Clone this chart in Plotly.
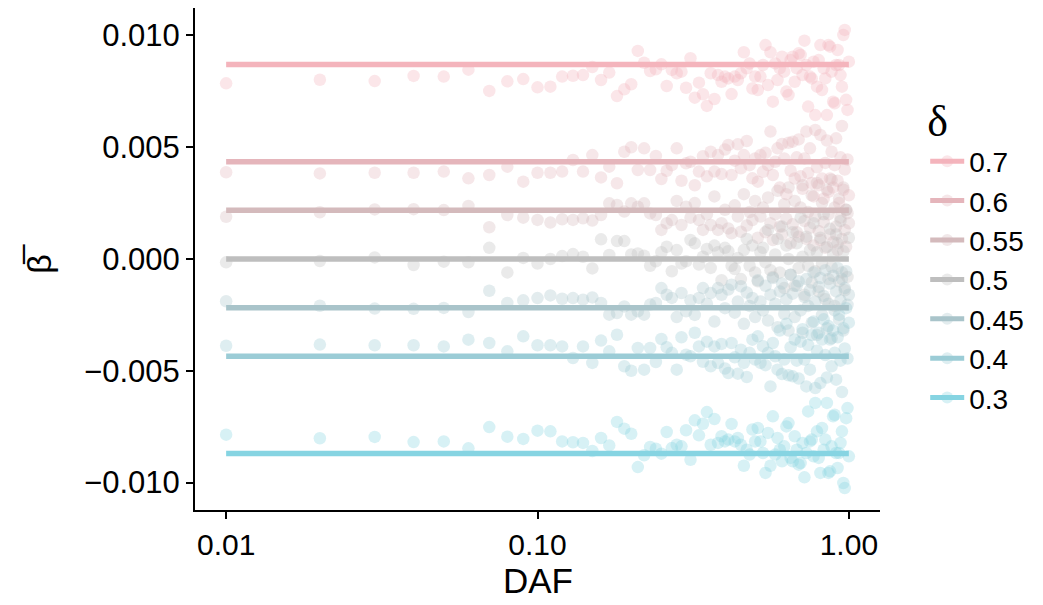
import plotly.graph_objects as go

# Derived allele frequency (DAF) bins
daf = [0.01, 0.02, 0.03, 0.04, 0.05, 0.06, 0.07, 0.08, 0.09, 0.10,
       0.11, 0.12, 0.13, 0.14, 0.15, 0.16, 0.17, 0.18, 0.19, 0.20,
       0.21, 0.22, 0.23, 0.24, 0.25, 0.26, 0.27, 0.28, 0.29, 0.30,
       0.31, 0.32, 0.33, 0.34, 0.35, 0.36, 0.37, 0.38, 0.39, 0.40,
       0.41, 0.42, 0.43, 0.44, 0.45, 0.46, 0.47, 0.48, 0.49, 0.50,
       0.51, 0.52, 0.53, 0.54, 0.55, 0.56, 0.57, 0.58, 0.59, 0.60,
       0.61, 0.62, 0.63, 0.64, 0.65, 0.66, 0.67, 0.68, 0.69, 0.70,
       0.71, 0.72, 0.73, 0.74, 0.75, 0.76, 0.77, 0.78, 0.79, 0.80,
       0.81, 0.82, 0.83, 0.84, 0.85, 0.86, 0.87, 0.88, 0.89, 0.90,
       0.91, 0.92, 0.93, 0.94, 0.95, 0.96, 0.97, 0.98, 0.99, 1.00]

delta_labels = ["0.7", "0.6", "0.55", "0.5", "0.45", "0.4", "0.3"]
delta_colors = ["#F4B4BC", "#E5B5BB", "#D4BABC", "#BEBEBE", "#A9C4CA", "#9BCCD6", "#86D4E2"]

# Expected mean effect for each delta (x 1e-3)
expected_beta = [8.70, 4.35, 2.18, 0.00, -2.18, -4.35, -8.70]

# Mean effect per DAF bin (x 1e-3)
beta_d070 = [7.86, 8.02, 7.96, 8.19, 8.16, 8.47, 7.52, 7.95, 8.05,
             7.68, 7.71, 8.16, 8.20, 8.23, 8.59, 8.01, 8.34, 7.29, 7.59, 7.82,
             9.31, 8.78, 8.41, 8.49, 8.71, 7.74, 8.46, 8.31, 8.38, 7.66, 8.98, 7.22, 7.89, 7.37, 6.85,
             8.31, 7.16, 8.23, 7.93, 8.16, 8.08, 7.38, 8.16, 8.01, 8.31, 9.25, 8.53, 8.75, 7.63, 8.16,
             7.56, 8.16, 8.68, 9.57, 7.78, 9.25, 7.04, 8.75, 8.01, 8.53, 9.05, 8.38, 7.49, 7.34, 8.90,
             9.05, 7.93, 8.53, 9.20, 9.13, 8.23, 9.77, 8.68, 6.82, 8.16, 8.08, 8.83, 6.44, 7.71, 8.90,
             9.57, 7.56, 8.53, 8.08, 6.44, 9.57, 9.50, 8.38, 7.04, 6.97, 8.68, 9.35, 8.68, 8.23, 7.71,
             10.02, 10.25, 7.12, 6.67, 8.83]

beta_d060 = [3.88, 3.83, 3.86, 3.86, 3.91, 3.61, 3.76, 4.13, 3.46,
             3.86, 3.86, 3.91, 4.43, 3.91, 4.65, 3.65, 4.13, 3.39, 4.80, 5.00,
             3.98, 4.95, 3.98, 4.61, 3.58, 3.95, 4.20, 4.95, 3.50, 4.28, 4.35, 3.30, 3.91, 4.60, 3.70,
             4.80, 3.91, 4.65, 3.80, 4.90, 5.10, 3.76, 4.40, 5.13, 4.06, 4.65, 5.28, 4.20, 3.61, 4.50,
             3.46, 4.65, 3.90, 4.75, 4.20, 5.70, 3.76, 4.35, 4.95, 3.20, 5.15, 4.50, 2.90, 5.20, 3.95,
             5.25, 3.60, 4.55, 5.35, 3.70, 3.14, 4.50, 5.70, 3.85, 4.95, 3.40, 2.80, 5.77, 4.10, 3.30,
             5.55, 3.60, 2.70, 4.30, 5.30, 3.00, 3.60, 4.80, 3.20, 4.20, 5.40, 3.50, 2.50, 4.55, 5.95,
             3.10, 4.00, 2.20, 4.45, 2.85]

beta_d055 = [1.89, 2.09, 2.22, 2.23, 2.19, 2.37, 1.42, 1.97, 1.85,
             1.75, 1.63, 1.78, 1.75, 1.82, 1.72, 1.97, 2.49, 2.42, 2.12, 2.49,
             2.34, 2.49, 2.04, 1.97, 1.30, 1.60, 1.74, 2.60, 1.52, 2.34, 1.85, 2.50, 1.74, 1.30, 2.00,
             1.52, 2.80, 1.30, 1.60, 2.20, 1.37, 1.15, 2.40, 1.90, 1.22, 2.90, 1.50, 2.10, 1.74, 2.60,
             0.95, 1.90, 2.30, 1.20, 2.75, 1.60, 0.85, 2.00, 3.05, 1.45, 1.10, 2.45, 1.80, 3.20, 0.70,
             1.55, 2.60, 1.20, 1.00, 2.30, 3.30, 1.70, 0.90, 2.10, 1.40, 2.85, 0.60, 1.90, 3.40, 1.25,
             0.85, 2.50, 1.65, 0.50, 3.10, 2.00, 1.10, 3.55, 0.75, 2.30, 1.45, 0.40, 2.70, 1.85, 0.90,
             3.20, 1.30, 0.55, 2.05, 1.60]

beta_d050 = [-0.15, -0.09, 0.07, -0.27, -0.12, -0.15, 0.50, -0.60, 0.05,
             -0.20, 0.00, 0.13, 0.22, 0.10, -0.42, 0.88, 0.18, 0.80, 0.80, 0.20,
             0.25, 0.15, -0.30, -0.10, 0.30, 0.55, -0.55, 0.40, -0.20, -0.10, 0.85, 0.70, -0.25, 0.10, 0.45,
             -0.40, 0.60, 0.30, -0.95, 0.50, 0.35, -0.30, -0.45, 0.05, -0.90, 0.40, 0.90, -0.30, 0.60, -0.60,
             -1.00, 0.30, 0.50, -0.15, 1.30, -0.50, -0.80, 0.20, 0.90, -0.60, 1.45, -1.30, 0.60, 0.00, -0.70,
             1.20, -1.20, 0.70, -0.40, 1.85, 0.10, -1.60, 1.00, -0.30, 0.40, -1.05, 1.60, -0.55, 0.30, -1.45,
             0.95, -0.20, 2.00, -1.80, 0.55, -0.90, 1.35, -0.35, 0.20, -2.10, 1.10, 0.70, -1.00, 1.70, -0.60,
             0.35, -1.40, 2.20, -0.80, 0.95]

beta_d045 = [-1.89, -2.09, -2.22, -2.23, -2.19, -2.37, -1.42, -1.97, -1.85,
             -1.75, -1.63, -1.78, -1.75, -1.82, -1.72, -1.97, -2.49, -2.42, -2.12, -2.49,
             -2.34, -2.49, -2.04, -1.97, -1.30, -1.60, -1.74, -2.60, -1.52, -2.34, -1.85, -2.50, -1.74, -1.30, -2.00,
             -1.52, -2.80, -1.30, -1.60, -2.20, -1.37, -1.15, -2.40, -1.90, -1.22, -2.90, -1.50, -2.10, -1.74, -2.60,
             -0.95, -1.90, -2.30, -1.20, -2.75, -1.60, -0.85, -2.00, -3.05, -1.45, -1.10, -2.45, -1.80, -3.20, -0.70,
             -1.55, -2.60, -1.20, -1.00, -2.30, -3.30, -1.70, -0.90, -2.10, -1.40, -2.85, -0.60, -1.90, -3.40, -1.25,
             -0.85, -2.50, -1.65, -0.50, -3.10, -2.00, -1.10, -3.55, -0.75, -2.30, -1.45, -0.40, -2.70, -1.85, -0.90,
             -3.20, -1.30, -0.55, -2.05, -1.60]

beta_d040 = [-3.88, -3.83, -3.86, -3.86, -3.91, -3.61, -3.76, -4.13, -3.46,
             -3.86, -3.86, -3.91, -4.43, -3.91, -4.65, -3.65, -4.13, -3.39, -4.80, -5.00,
             -3.98, -4.95, -3.98, -4.61, -3.58, -3.95, -4.20, -4.95, -3.50, -4.28, -4.35, -3.30, -3.91, -4.60, -3.70,
             -4.80, -3.91, -4.65, -3.80, -4.90, -5.10, -3.76, -4.40, -5.13, -4.06, -4.65, -5.28, -4.20, -3.61, -4.50,
             -3.46, -4.65, -3.90, -4.75, -4.20, -5.70, -3.76, -4.35, -4.95, -3.20, -5.15, -4.50, -2.90, -5.20, -3.95,
             -5.25, -3.60, -4.55, -5.35, -3.70, -3.14, -4.50, -5.70, -3.85, -4.95, -3.40, -2.80, -5.77, -4.10, -3.30,
             -5.55, -3.60, -2.70, -4.30, -5.30, -3.00, -3.60, -4.80, -3.20, -4.20, -5.40, -3.50, -2.50, -4.55, -5.95,
             -3.10, -4.00, -2.20, -4.45, -2.85]

beta_d030 = [-7.86, -8.02, -7.96, -8.19, -8.16, -8.47, -7.52, -7.95, -8.05,
             -7.68, -7.71, -8.16, -8.20, -8.23, -8.59, -8.01, -8.34, -7.29, -7.59, -7.82,
             -9.31, -8.78, -8.41, -8.49, -8.71, -7.74, -8.46, -8.31, -8.38, -7.66, -8.98, -7.22, -7.89, -7.37, -6.85,
             -8.31, -7.16, -8.23, -7.93, -8.16, -8.08, -7.38, -8.16, -8.01, -8.31, -9.25, -8.53, -8.75, -7.63, -8.16,
             -7.56, -8.16, -8.68, -9.57, -7.78, -9.25, -7.04, -8.75, -8.01, -8.53, -9.05, -8.38, -7.49, -7.34, -8.90,
             -9.05, -7.93, -8.53, -9.20, -9.13, -8.23, -9.77, -8.68, -6.82, -8.16, -8.08, -8.83, -6.44, -7.71, -8.90,
             -9.57, -7.56, -8.53, -8.08, -6.44, -9.57, -9.50, -8.38, -7.04, -6.97, -8.68, -9.35, -8.68, -8.23, -7.71,
             -10.02, -10.25, -7.12, -6.67, -8.83]

beta_series = [beta_d070, beta_d060, beta_d055, beta_d050, beta_d045, beta_d040, beta_d030]

SCALE = 1e-3
FONT = "Liberation Sans, Arial, sans-serif"
POINT_ALPHA = 0.33

fig = go.Figure()

# Scatter of per-bin means
for label, color, values in zip(delta_labels, delta_colors, beta_series):
    fig.add_trace(go.Scatter(
        x=daf, y=[v * SCALE for v in values], mode="markers",
        marker=dict(size=12.5, color=color, opacity=POINT_ALPHA, line=dict(width=0)),
        showlegend=False, hoverinfo="x+y",
    ))

# Expected value lines across the DAF range
for label, color, level in zip(delta_labels, delta_colors, expected_beta):
    fig.add_trace(go.Scatter(
        x=[daf[0], daf[-1]], y=[level * SCALE, level * SCALE], mode="lines",
        line=dict(color=color, width=5.5),
        showlegend=False, hoverinfo="skip",
    ))

# Legend keys: line with a faint point
for label, color in zip(delta_labels, delta_colors):
    fig.add_trace(go.Scatter(
        x=[None], y=[None], mode="lines+markers", name=label,
        line=dict(color=color, width=5),
        marker=dict(size=12, color=color, opacity=POINT_ALPHA),
        showlegend=True,
    ))

fig.update_layout(
    width=1043, height=605,
    margin=dict(l=195, r=163, t=8, b=95),
    paper_bgcolor="white", plot_bgcolor="white",
    font=dict(family=FONT, color="black", size=24),
    showlegend=True,
    legend=dict(
        x=1.066, y=0.858, xanchor="left", yanchor="top",
        traceorder="normal",
        title=dict(text="δ", font=dict(family="Liberation Serif, serif", size=44)),
        font=dict(family=FONT, size=28, color="black"),
        itemwidth=34, bgcolor="rgba(0,0,0,0)",
    ),
    xaxis=dict(
        type="log", range=[-2.1, 0.1],
        tickvals=[0.01, 0.1, 1.0], ticktext=["0.01", "0.10", "1.00"],
        ticks="outside", ticklen=7, tickwidth=2, tickcolor="black",
        showline=True, linecolor="black", linewidth=2,
        showgrid=False, zeroline=False,
        tickfont=dict(family=FONT, size=30, color="black"),
    ),
    yaxis=dict(
        range=[-0.01123, 0.01123],
        tickvals=[-0.01, -0.005, 0.0, 0.005, 0.01],
        ticktext=["\u22120.010", "\u22120.005", "0.000", "0.005", "0.010"],
        ticks="outside", ticklen=7, tickwidth=2, tickcolor="black",
        showline=True, linecolor="black", linewidth=2,
        showgrid=False, zeroline=False,
        tickfont=dict(family=FONT, size=31, color="black"),
    ),
    annotations=[
        dict(
            text="DAF", xref="paper", yref="paper", x=0.5, y=-0.1414,
            xanchor="center", yanchor="middle", showarrow=False,
            font=dict(family=FONT, size=35, color="black"),
        ),
        dict(
            text="\u03b2\u0305", xref="paper", yref="paper", x=-0.228, y=0.5,
            xanchor="center", yanchor="middle", textangle=-90, showarrow=False,
            font=dict(family=FONT, size=34, color="black"),
        ),
    ],
)

fig.write_html("out.html")
